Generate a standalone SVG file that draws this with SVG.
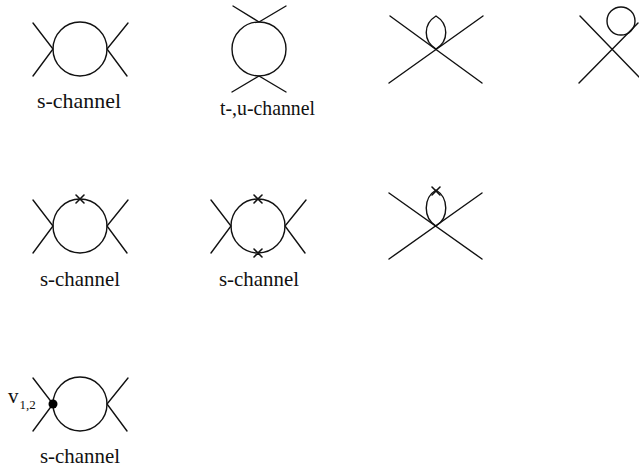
<svg xmlns="http://www.w3.org/2000/svg" width="639" height="469" viewBox="0 0 639 469">
<style>
.l{fill:none;stroke:#111;stroke-width:1.4;stroke-linecap:round}
text{font-family:"Liberation Serif","Times New Roman",serif;fill:#111;font-size:21px}
.s{font-size:13px}
</style>
<defs>
<g id="schan"><circle class="l" cx="80" cy="0" r="27"/><path class="l" d="M33-26L53 0L33 27M128-26L107 0L127 27"/></g>
<g id="x"><path class="l" style="stroke-width:1.6" d="M-4-4L4 4M4-4L-4 4"/></g>
</defs>
<rect width="639" height="469" fill="#fff"/>
<g id="connectors">
<path class="l" d="M233 6L259 22L286 6M232 92L259 76L286 92"/>
<path class="l" d="M390 16L482 83M483 16L389 83"/>
<path class="l" d="M580 16L639 77M579 83L638 23"/>
<path class="l" d="M389 193L482 259M482 193L389 259"/>
</g>
<g id="n1"><use href="#schan" y="49"/><text x="37" y="108" textLength="84" lengthAdjust="spacingAndGlyphs">s-channel</text></g>
<g id="n2"><circle class="l" cx="259" cy="49" r="27"/><text x="220" y="115" textLength="95" lengthAdjust="spacingAndGlyphs">t-,u-channel</text></g>
<g id="n3"><path class="l" d="M436 49C423 41 423 24 436 16C449 24 449 41 436 49Z"/></g>
<g id="n4"><circle class="l" cx="621" cy="21" r="14"/></g>
<g id="n5"><use href="#schan" y="226"/><use href="#x" x="80" y="199"/><text x="40" y="286" textLength="80" lengthAdjust="spacingAndGlyphs">s-channel</text></g>
<g id="n6"><use href="#schan" x="178" y="226"/><use href="#x" x="258" y="199"/><use href="#x" x="258" y="253"/><text x="219" y="286" textLength="80" lengthAdjust="spacingAndGlyphs">s-channel</text></g>
<g id="n7"><path class="l" d="M436 226C423 218 423 198 436 190C449 198 449 218 436 226Z"/><use href="#x" x="436" y="191"/></g>
<g id="n8"><use href="#schan" y="404"/><circle cx="53" cy="404" r="4.5" fill="#000"/><text x="8" y="403">v<tspan class="s" dy="6" dx="1">1,2</tspan></text><text x="40" y="463" textLength="80" lengthAdjust="spacingAndGlyphs">s-channel</text></g>
</svg>
